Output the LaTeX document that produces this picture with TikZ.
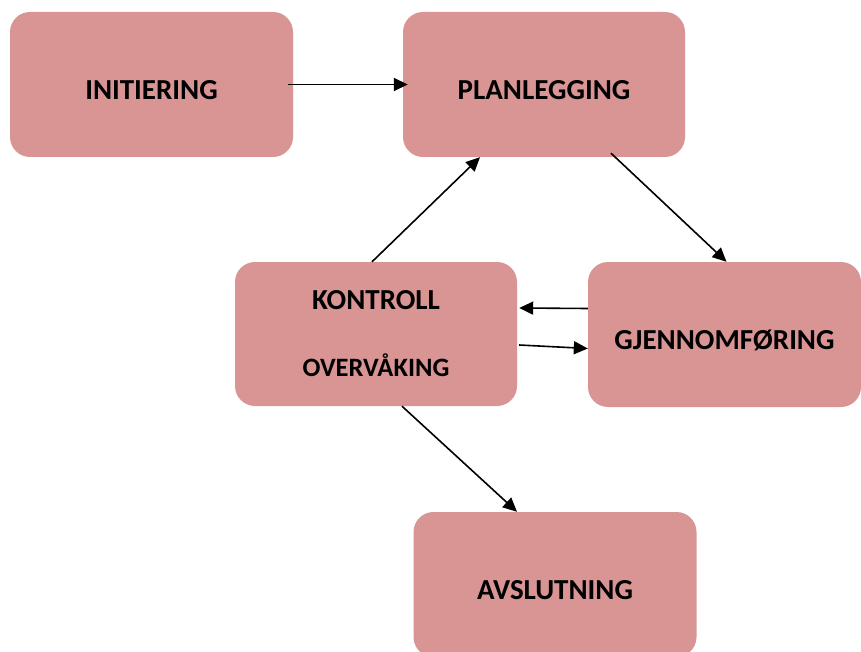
\documentclass[tikz,border=0pt]{standalone}
\usepackage{fontspec}
\setmainfont{Carlito}
\usepackage{tikz}
\usetikzlibrary{arrows.meta}

\definecolor{phasepink}{RGB}{217,149,148}

\begin{document}
\begin{tikzpicture}[x=1pt,y=-1pt,
    every node/.style={align=center,font=\fontsize{29}{34}\selectfont\bfseries},
    phase/.style={fill=phasepink,rounded corners=20pt,inner sep=0pt},
    lowtext/.style={text height=30pt,text depth=0pt},
    flow/.style={-{Triangle[length=14pt,width=13pt]},line width=1.6pt}]
\useasboundingbox (0,0) rectangle (861,652);

\node[phase,lowtext,minimum width=283pt,minimum height=145pt] (ini) at (151.5,84.5) {INITIERING};
\node[phase,lowtext,minimum width=282pt,minimum height=145pt] (plan) at (544,84.5) {PLANLEGGING};
\node[phase,minimum width=282pt,minimum height=144pt] (kon) at (376,334) {KONTROLL\\[33pt]{\fontsize{26.5}{31}\selectfont OVERVÅKING}};
\node[phase,lowtext,minimum width=273pt,minimum height=145pt] (gj) at (724.5,334.5) {GJENNOMFØRING};
\node[phase,lowtext,minimum width=283pt,minimum height=145pt] (avs) at (555,584.5) {AVSLUTNING};

%\draw[flow] (ini) -- (plan);
\draw[flow] ([xshift=-5pt]ini.east) -- ([xshift=5pt]plan.west);
\draw[flow] ([xshift=-4pt]kon.north) -- ([xshift=-64pt]plan.south);
\draw[flow] ([xshift=67pt,yshift=4pt]plan.south) -- ([xshift=2pt]gj.north);
\draw[flow] ([yshift=26pt]gj.west) -- ([xshift=2pt,yshift=26pt]kon.east);
\draw[flow] ([xshift=2pt,yshift=-11pt]kon.east) -- ([yshift=-14pt]gj.west);
\draw[flow] ([xshift=26pt]kon.south) -- ([xshift=-38pt]avs.north);
\end{tikzpicture}
\end{document}
